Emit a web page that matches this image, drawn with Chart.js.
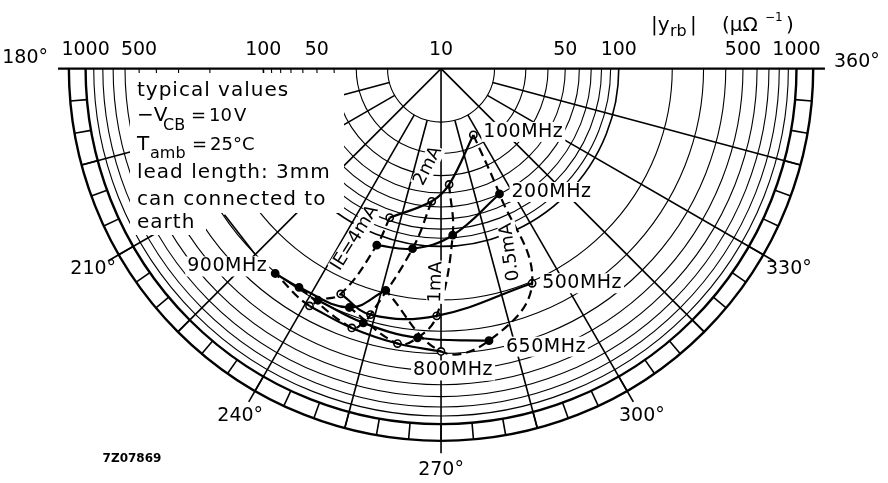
<!DOCTYPE html>
<html lang="en">
<head>
<meta charset="UTF-8">
<title>|y_rb| polar diagram</title>
<script src="https://cdn.jsdelivr.net/npm/chart.js"></script>
<style>
  html, body { margin: 0; padding: 0; background: #fff; }
  #wrap { position: relative; width: 888px; height: 483px; }
</style>
</head>
<body>
<div id="wrap"><canvas id="chart"></canvas></div>
<script>
// frequencies of the measured points (MHz)
const freqMHz = [100, 200, 500, 650, 800, 900];
// |y_rb| (uS) and phase (deg) for each emitter current, in frequency order
const mag05 = [26, 60, 205, 358, 390, 193];
const ang05 = [296, 295, 293, 280, 270, 256];
const mag1 = [45, 87, 246, 331, 368, 275];
const ang1 = [274, 274, 269, 265, 261, 249];
const mag2 = [56, 106, 275, 313, 349, 293];
const ang2 = [266, 261, 254, 253, 251, 237];
const mag4 = [77, 114, 244, 299, 336, 304];
const ang4 = [251, 250, 246, 242, 241, 231];
const currentLabels = ['0.5mA', '1mA', '2mA', 'IE=4mA'];

// grid of the diagram
const ringValues = [20, 30, 40, 50, 60, 70, 80, 90, 100, 200, 300, 400, 500, 600, 700, 800, 900, 1000];
const fullSpokes = [225, 270, 315];
const innerSpokes = [195, 210, 240, 255, 285, 300, 330, 345];
const angleTicks = [180, 210, 240, 270, 300, 330, 360];
const leftScale = [1000, 500, 100, 50];
const rightScale = [50, 100, 500, 1000];

const CX = 441, CY = 64.5, KX = 180, KY = 182;   // centre and px per decade
const U_OUT = 2.094;                              // outer edge of hatched band

function u(v) { return Math.log10(v / 10); }
function polar(v, deg) {
  const a = deg * Math.PI / 180;
  return { x: u(v) * Math.cos(a), y: u(v) * Math.sin(a) };
}

const series = [
  { mag: mag05, ang: ang05 },
  { mag: mag1, ang: ang1 },
  { mag: mag2, ang: ang2 },
  { mag: mag4, ang: ang4 }
];

const datasets = [];
// constant current curves (dashed)
series.forEach(function (s, i) {
  datasets.push({
    label: currentLabels[i],
    data: freqMHz.map(function (f, j) { return polar(s.mag[j], s.ang[j]); }),
    showLine: true, borderColor: '#000', borderWidth: 2.2, borderDash: [9, 5],
    pointRadius: 0, tension: 0.4
  });
});
// constant frequency curves (solid)
freqMHz.forEach(function (f, j) {
  datasets.push({
    label: f + 'MHz',
    data: series.map(function (s) { return polar(s.mag[j], s.ang[j]); }),
    showLine: true, borderColor: '#000', borderWidth: 2.2,
    pointRadius: 0, tension: 0.4
  });
});
// measured points: open for 100/500/800, filled for 200/650/900
freqMHz.forEach(function (f, j) {
  const filled = (j % 2 === 1);
  datasets.push({
    label: 'pts' + f,
    data: series.map(function (s) { return polar(s.mag[j], s.ang[j]); }),
    showLine: false, pointRadius: 3.6, pointBorderWidth: 1.6,
    pointBorderColor: '#000', pointBackgroundColor: filled ? '#000' : '#fff'
  });
});

const FONT = '"DejaVu Sans", sans-serif';

function pix(chart, uu, deg) {
  const a = deg * Math.PI / 180;
  return [chart.scales.x.getPixelForValue(uu * Math.cos(a)),
          chart.scales.y.getPixelForValue(uu * Math.sin(a))];
}

function line(ctx, p, q) {
  ctx.beginPath(); ctx.moveTo(p[0], p[1]); ctx.lineTo(q[0], q[1]); ctx.stroke();
}

function boxedText(ctx, text, x, y, align) {
  ctx.textAlign = align;
  const w = ctx.measureText(text).width;
  const x0 = align === 'left' ? x : (align === 'right' ? x - w : x - w / 2);
  ctx.fillStyle = '#fff';
  ctx.fillRect(x0 - 2, y - 10, w + 4, 20);
  ctx.fillStyle = '#000';
  ctx.fillText(text, x, y);
}

const gridPlugin = {
  id: 'polarGrid',
  beforeDatasetsDraw: function (chart) {
    const ctx = chart.ctx;
    const xs = chart.scales.x, ys = chart.scales.y;
    const cx = xs.getPixelForValue(0), cy = ys.getPixelForValue(0);
    ctx.save();
    ctx.strokeStyle = '#000';
    ctx.lineCap = 'butt';

    // rings
    ringValues.concat([U_OUT]).forEach(function (v, i) {
      const uu = i < ringValues.length ? u(v) : v;
      const rx = xs.getPixelForValue(uu) - cx;
      const ry = ys.getPixelForValue(-uu) - cy;
      ctx.lineWidth = (v === 1000 || i === ringValues.length) ? 2.4 : (v === 100 ? 1.6 : 1.1);
      ctx.beginPath();
      ctx.ellipse(cx, cy, rx, ry, 0, 0, Math.PI);
      ctx.stroke();
    });

    // hatched band ticks every 5 deg
    ctx.lineWidth = 1.6;
    for (let d = 185; d < 360; d += 5) {
      line(ctx, pix(chart, 2, d), pix(chart, U_OUT, d));
    }

    // spokes
    ctx.lineWidth = 1.6;
    fullSpokes.forEach(function (d) {
      const ext = angleTicks.indexOf(d) >= 0 ? U_OUT + 0.07 : U_OUT;
      line(ctx, [cx, cy], pix(chart, ext, d));
    });
    innerSpokes.forEach(function (d) {
      const ext = angleTicks.indexOf(d) >= 0 ? U_OUT + 0.07 : U_OUT;
      line(ctx, pix(chart, u(20), d), pix(chart, ext, d));
    });
    // short stroke next to the 225 deg spoke
    line(ctx, pix(chart, 1.47, 214), pix(chart, 1.478, 225));

    // 180 - 360 axis
    ctx.lineWidth = 2.2;
    line(ctx, pix(chart, 2.155, 180), pix(chart, 2.16, 0));

    // blank area behind the notes
    ctx.fillStyle = '#fff';
    ctx.fillRect(130, 73, 214, 140);
    ctx.fillRect(130, 213, 76, 22);
    ctx.restore();
  },
  afterDatasetsDraw: function (chart) {
    const ctx = chart.ctx;
    const xs = chart.scales.x;
    const cx = xs.getPixelForValue(0);
    ctx.save();
    ctx.fillStyle = '#000';
    ctx.textBaseline = 'middle';

    // top magnitude scale
    ctx.font = '19px ' + FONT;
    ctx.textAlign = 'center';
    leftScale.forEach(function (v) { ctx.fillText(String(v), pix(chart, u(v), 180)[0], 50); });
    rightScale.forEach(function (v) { ctx.fillText(String(v), pix(chart, u(v), 0)[0], 50); });
    ctx.fillText('10', cx, 50);

    // axis title |y_rb| (uS)
    ctx.textAlign = 'left';
    ctx.font = '20px ' + FONT;
    ctx.fillText('|y', 651, 26);
    ctx.font = '16px ' + FONT;
    ctx.fillText('rb', 670, 32);
    ctx.font = '20px ' + FONT;
    ctx.fillText('|', 690, 26);
    ctx.fillText('(\u03bc\u03a9', 722, 26);
    ctx.font = '12px ' + FONT;
    ctx.fillText('\u22121', 765, 18);
    ctx.font = '20px ' + FONT;
    ctx.fillText(')', 786, 26);

    // angle labels
    ctx.font = '19px ' + FONT;
    ctx.textAlign = 'right';
    ctx.fillText('180\u00b0', 48, 58);
    ctx.textAlign = 'left';
    ctx.fillText('360\u00b0', 834, 62);
    ctx.textAlign = 'center';
    angleTicks.slice(1, -1).forEach(function (d) {
      const p = pix(chart, 2.26, d);
      ctx.fillText(d + '\u00b0', p[0], p[1]);
    });

    // notes
    ctx.textAlign = 'left';
    ctx.textBaseline = 'alphabetic';
    ctx.font = '20px ' + FONT;
    ctx.letterSpacing = '1px';
    ctx.fillText('typical values', 137, 96);
    ctx.fillText('lead length: 3mm', 137, 178);
    ctx.fillText('can connected to', 137, 205);
    ctx.fillText('earth', 137, 228);
    ctx.letterSpacing = '0px';
    ctx.fillText('\u2212V', 137, 121);
    ctx.fillText('T', 137, 150);
    ctx.font = '18px ' + FONT;
    ctx.fillText('=', 191, 121);
    ctx.fillText('10', 209, 121);
    ctx.fillText('V', 234, 121);
    ctx.fillText('=', 192, 150);
    ctx.fillText('25\u00b0C', 210, 150);
    ctx.font = '16px ' + FONT;
    ctx.fillText('CB', 163, 130);
    ctx.fillText('amb', 150, 158);

    // frequency labels: 0.5 mA points, 900 MHz on the 4 mA point
    ctx.textBaseline = 'middle';
    ctx.font = '19px ' + FONT;
    ctx.letterSpacing = '0.5px';
    const lab = [[0, 10, -3, 'left'], [0, 12, -2, 'left'], [0, 10, 0, 'left'],
                 [0, 17, 6, 'left'], [0, 12, 19, 'center'], [3, -8, -7, 'right']];
    freqMHz.forEach(function (f, j) {
      const s = series[lab[j][0]];
      const p = pix(chart, u(s.mag[j]), s.ang[j]);
      boxedText(ctx, f + 'MHz', p[0] + lab[j][1], p[1] + lab[j][2], lab[j][3]);
    });
    ctx.letterSpacing = '0px';

    // current labels along the dashed curves
    const cur = [[510, 252, -98], [436, 282, -88], [428, 166, -63], [355, 238, -58]];
    ctx.font = '18px ' + FONT;
    ctx.textAlign = 'center';
    currentLabels.forEach(function (t, i) {
      ctx.save();
      ctx.translate(cur[i][0], cur[i][1]);
      ctx.rotate(cur[i][2] * Math.PI / 180);
      const w = ctx.measureText(t).width;
      ctx.fillStyle = '#fff';
      ctx.fillRect(-w / 2 - 1, -9, w + 2, 18);
      ctx.fillStyle = '#000';
      ctx.fillText(t, 0, 0);
      ctx.restore();
    });

    // drawing number
    ctx.font = 'bold 12px ' + FONT;
    ctx.textAlign = 'center';
    ctx.fillText('7Z07869', 132, 459);
    ctx.restore();
  }
};

new Chart(document.getElementById('chart'), {
  type: 'scatter',
  data: { datasets: datasets },
  options: {
    responsive: true,
    maintainAspectRatio: false,
    animation: false,
    layout: { padding: 0 },
    plugins: { legend: { display: false }, tooltip: { enabled: false } },
    scales: {
      x: { type: 'linear', display: false, min: -CX / KX, max: (888 - CX) / KX },
      y: { type: 'linear', display: false, min: -(483 - CY) / KY, max: CY / KY }
    }
  },
  plugins: [gridPlugin]
});
</script>
</body>
</html>
